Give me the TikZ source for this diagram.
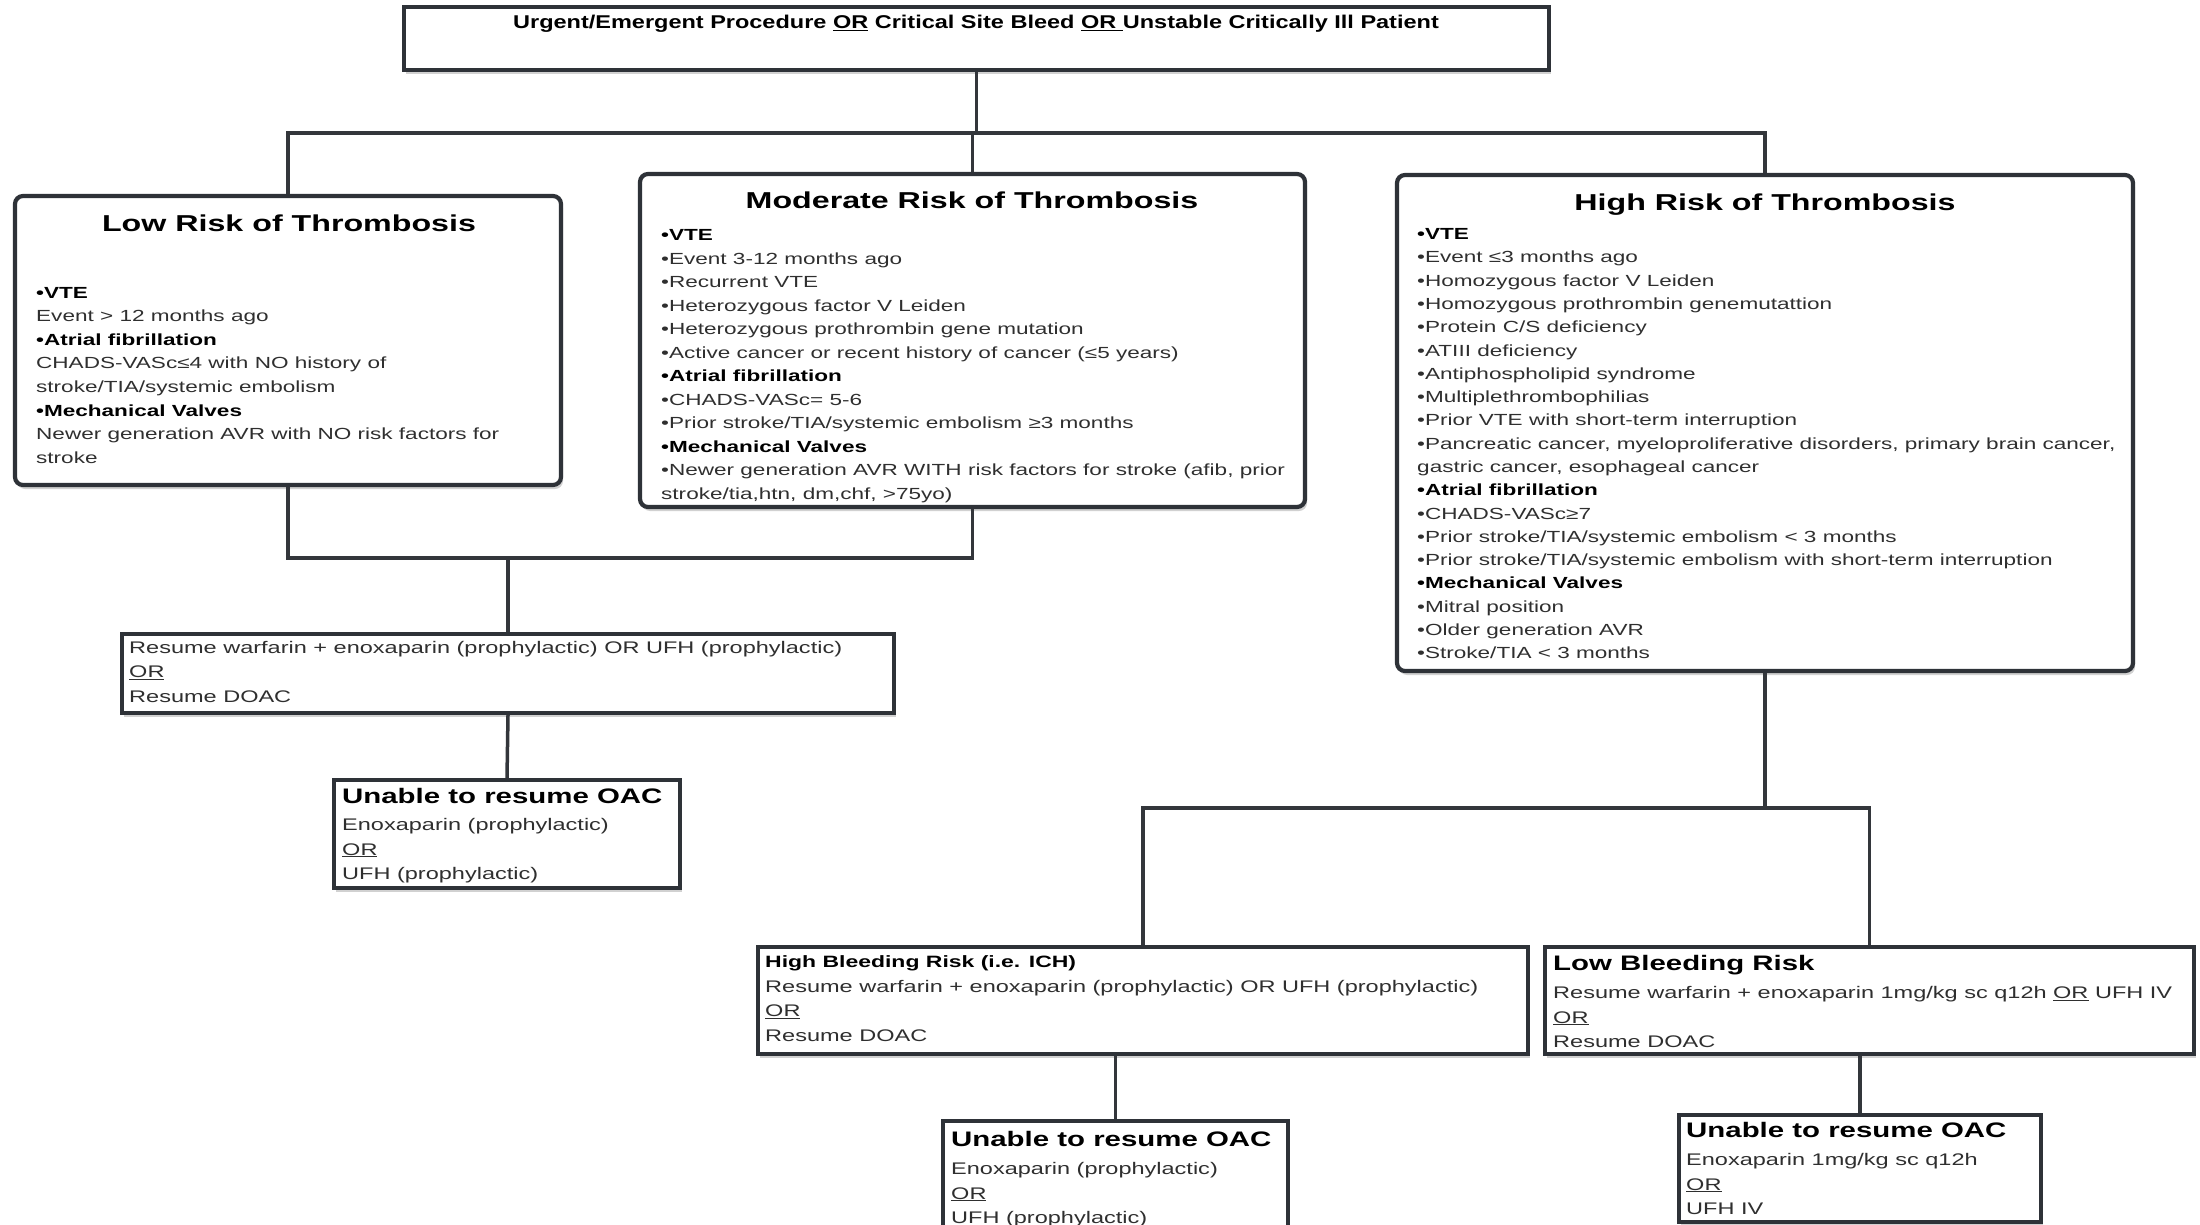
\documentclass[tikz,border=0pt]{standalone}
\usepackage{fontspec}
\setmainfont{Liberation Sans}[FakeStretch=1.4]
\newfontfamily\topfont{Liberation Sans}[FakeStretch=1.27]
\usetikzlibrary{shadows}
\definecolor{bordercol}{HTML}{2E3238}
\definecolor{linecol}{HTML}{33363B}
\definecolor{textcol}{HTML}{2F2F2F}
\newcommand{\hd}[1]{\textcolor{black}{\textbf{#1}}}
\newcommand{\bigttl}[1]{\textcolor{black}{\bfseries\fontsize{21}{24}\selectfont #1}}
\newcommand{\ul}[1]{\underline{#1}}
\begin{document}
\begin{tikzpicture}[x=1pt,y=-1pt]
\tikzset{
  boxbase/.style={draw=bordercol, line width=4.2pt, fill=white, inner sep=0pt,
    drop shadow={shadow xshift=2pt, shadow yshift=-4pt, opacity=0.18, fill=black}},
  rbox/.style={boxbase, rounded corners=8pt},
  sbox/.style={boxbase},
  conn/.style={draw=linecol, line width=3.5pt},
  ttl/.style={anchor=base, inner sep=0pt, font=\bfseries\fontsize{23}{27}\selectfont, text=black},
  txt/.style={anchor=base west, inner sep=0pt, font=\fontsize{16.1}{23.3}\selectfont, text=textcol},
  txtb/.style={txt, font=\fontsize{16.8}{24.5}\selectfont}
}
\clip (0,0) rectangle (2200,1225);
\fill[white] (0,0) rectangle (2200,1225);

% boxes
\node[sbox, minimum width=1145pt, minimum height=63pt] (top) at (976.5,38.5) {};
\node[rbox, minimum width=546pt, minimum height=289pt] (low) at (288,340.5) {};
\node[rbox, minimum width=665pt, minimum height=333pt] (mod) at (972.5,340.5) {};
\node[rbox, minimum width=736pt, minimum height=496pt] (high) at (1765,423) {};
\node[sbox, minimum width=772pt, minimum height=79pt] (res) at (508,673.5) {};
\node[sbox, minimum width=346pt, minimum height=108pt] (unA) at (507,834) {};
\node[sbox, minimum width=770pt, minimum height=107pt] (hbr) at (1143,1000.5) {};
\node[sbox, minimum width=649pt, minimum height=107pt] (lbr) at (1869.5,1000.5) {};
\node[sbox, minimum width=345pt, minimum height=119pt] (unB) at (1115.5,1180.5) {};
\node[sbox, minimum width=362pt, minimum height=107pt] (unC) at (1860,1168.5) {};

% connectors
\coordinate (busy) at (0,133);
\coordinate (busl) at (0,558);
\coordinate (busr) at (0,808);
\draw[conn] (top.south) -- (top.south |- busy);
\draw[conn] (low.north) -- (low.north |- busy) -- (high.north |- busy) -- (high.north);
\draw[conn] (mod.north) -- (mod.north |- busy);
\draw[conn] (low.south) -- (low.south |- busl) -- (mod.south |- busl) -- (mod.south);
\draw[conn] (res.north) -- (res.north |- busl);
\draw[conn] (res.south) -- (unA.north);
\draw[conn] (high.south) -- (high.south |- busr);
\draw[conn] (hbr.north) -- (hbr.north |- busr) -- (lbr.north |- busr) -- (lbr.north);
\draw[conn] (unB.north) -- (unB.north |- hbr.south);
\draw[conn] (unC.north) -- (unC.north |- lbr.south);

% texts
\node[anchor=base, inner sep=0pt, text=black, font=\topfont\bfseries\fontsize{18.5}{22}\selectfont] (toptxt) at (976,29)
  {Urgent/Emergent Procedure \ul{OR} Critical Site Bleed \ul{OR\ }Unstable Critically Ill Patient};

\node[ttl] (lowttl) at (289,231) {Low Risk of Thrombosis};
\node[txt, font=\fontsize{16.1}{23.6}\selectfont] (lowtxt) at (36,298) {\parbox[t]{510pt}{\leavevmode\raggedright
\hd{•VTE}\\
Event > 12 months ago\\
\hd{•Atrial fibrillation}\\
CHADS-VASc≤4 with NO history of\\
stroke/TIA/systemic embolism\\
\hd{•Mechanical Valves}\\
Newer generation AVR with NO risk factors for\\
stroke}};

\node[ttl] (modttl) at (972,209) {Moderate Risk of Thrombosis};
\node[txt, font=\fontsize{16.1}{23.5}\selectfont] (modtxt) at (661,240.5) {\parbox[t]{635pt}{\leavevmode\raggedright
\hd{•VTE}\\
•Event 3-12 months ago\\
•Recurrent VTE\\
•Heterozygous factor V Leiden\\
•Heterozygous prothrombin gene mutation\\
•Active cancer or recent history of cancer (≤5 years)\\
\hd{•Atrial fibrillation}\\
•CHADS-VASc= 5-6\\
•Prior stroke/TIA/systemic embolism ≥3 months\\
\hd{•Mechanical Valves}\\
•Newer generation AVR WITH risk factors for stroke (afib, prior\\
stroke/tia,htn, dm,chf, >75yo)}};

\node[ttl] (highttl) at (1765,211) {High Risk of Thrombosis};
\node[txt] (hightxt) at (1417,239.5) {\parbox[t]{705pt}{\leavevmode\raggedright
\hd{•VTE}\\
•Event ≤3 months ago\\
•Homozygous factor V Leiden\\
•Homozygous prothrombin genemutattion\\
•Protein C/S deficiency\\
•ATIII deficiency\\
•Antiphospholipid syndrome\\
•Multiplethrombophilias\\
•Prior VTE with short-term interruption\\
•Pancreatic cancer, myeloproliferative disorders, primary brain cancer,\\
gastric cancer, esophageal cancer\\
\hd{•Atrial fibrillation}\\
•CHADS-VASc≥7\\
•Prior stroke/TIA/systemic embolism < 3 months\\
•Prior stroke/TIA/systemic embolism with short-term interruption\\
\hd{•Mechanical Valves}\\
•Mitral position\\
•Older generation AVR\\
•Stroke/TIA < 3 months}};

\node[txtb] (restxt) at (129,653) {\parbox[t]{755pt}{\leavevmode\raggedright
Resume warfarin + enoxaparin (prophylactic) OR UFH (prophylactic)\\
\ul{OR}\\
Resume DOAC}};

\node[txtb] (unAtxt) at (342,803) {\parbox[t]{330pt}{\leavevmode\raggedright
\bigttl{Unable to resume OAC}\\[3pt]
Enoxaparin (prophylactic)\\
\ul{OR}\\
UFH (prophylactic)}};

\node[txtb] (hbrtxt) at (765,967.5) {\parbox[t]{755pt}{\leavevmode\raggedright
\textcolor{black}{\bfseries\fontsize{16.4}{24.5}\selectfont High Bleeding Risk (i.e. ICH)}\\
Resume warfarin + enoxaparin (prophylactic) OR UFH (prophylactic)\\
\ul{OR}\\
Resume DOAC}};

\node[txtb] (lbrtxt) at (1553,970.5) {\parbox[t]{635pt}{\leavevmode\raggedright
\bigttl{Low Bleeding Risk}\\[3.5pt]
Resume warfarin + enoxaparin 1mg/kg sc q12h \ul{OR} UFH IV\\
\ul{OR}\\
Resume DOAC}};

\node[txtb] (unBtxt) at (951,1146.5) {\parbox[t]{330pt}{\leavevmode\raggedright
\bigttl{Unable to resume OAC}\\[3.5pt]
Enoxaparin (prophylactic)\\
\ul{OR}\\
UFH (prophylactic)}};

\node[txtb] (unCtxt) at (1686,1137.5) {\parbox[t]{345pt}{\leavevmode\raggedright
\bigttl{Unable to resume OAC}\\[3.5pt]
Enoxaparin 1mg/kg sc q12h\\
\ul{OR}\\
UFH IV}};
\end{tikzpicture}
\end{document}
